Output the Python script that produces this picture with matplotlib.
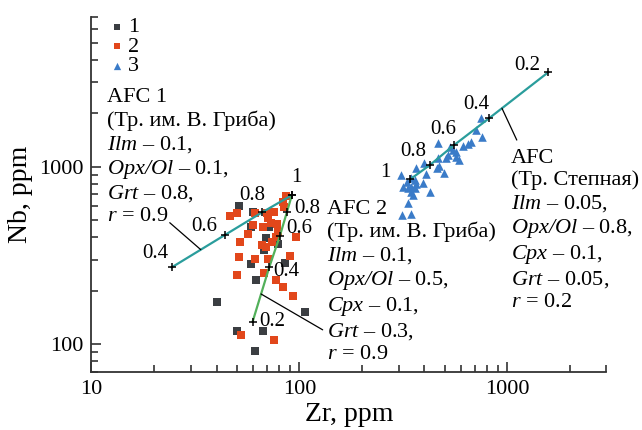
import numpy as np
import matplotlib
matplotlib.use('Agg')
import matplotlib.pyplot as plt
from matplotlib.ticker import LogLocator, FuncFormatter, NullFormatter

plt.rcParams['font.family'] = ['Liberation Serif', 'DejaVu Serif']
plt.rcParams['mathtext.fontset'] = 'custom'
plt.rcParams['mathtext.rm'] = 'Liberation Serif:italic'
plt.rcParams['mathtext.it'] = 'Liberation Serif:italic'

# series 1 (dark squares)
zr1 = [51.3, 59.6, 58.7, 69.0, 71.7, 78.6, 67.8, 58.3, 85.5, 62.1, 40.0, 106.6, 49.9, 67.0, 61.3]
nb1 = [600, 558, 457, 398, 460, 368, 341, 284, 287, 230, 174, 152, 118, 118, 91]

# series 2 (orange squares)
zr2 = [86.1, 83.6, 84.2, 49.9, 46.3, 61.3, 69.6, 75.4, 70.8, 72.7, 77.7, 60.0, 66.6, 78.6, 77.1, 73.5,
       51.8, 65.8, 69.0, 96.2, 51.3, 61.1, 70.3, 90.0, 50.2, 67.8, 77.1, 83.6, 93.4, 52.5, 75.8, 56.7]
nb2 = [683, 635, 595, 546, 527, 546, 546, 558, 512, 480, 475, 469, 459, 430, 403, 378,
       378, 362, 354, 403, 311, 304, 304, 314, 245, 251, 230, 209, 188, 112, 105, 416]

# series 3 (blue triangles)
zr3 = [752, 711, 760, 666, 648, 613, 465, 533, 549, 566, 519, 570, 587, 506, 465, 470, 457, 497, 397,
       409, 366, 310, 330, 346, 359, 366, 346, 334, 316, 359, 343, 353, 394, 424, 334, 313, 343]
nb3 = [1875, 1611, 1476, 1373, 1338, 1314, 1355, 1297, 1243, 1215, 1164, 1139, 1091, 1124, 1115, 1013,
       980, 918, 1045, 910, 980, 898, 823, 860, 841, 796, 771, 755, 771, 755, 717, 692, 806, 717, 622,
       534, 539]

# AFC model curves (F values)
afc1_zr = [24.3, 43.7, 66.4, 92.0]
afc1_nb = [271, 412, 555, 692]
afc1_f = ['0.4', '0.6', '0.8', '1']

afc2_zr = [59.6, 71.6, 80.6, 87.1, 92.0]
afc2_nb = [134, 271, 408, 555, 692]
afc2_f = ['0.2', '0.4', '0.6', '0.8', '']

afc3_zr = [342, 424, 555, 817, 1573]
afc3_nb = [852, 1022, 1326, 1876, 3408]
afc3_f = ['1', '0.8', '0.6', '0.4', '0.2']

c_dark = '#3b3e42'
c_orange = '#e2471b'
c_blue = '#3a7bc8'
c_teal = '#2a9d9c'
c_green = '#52b05a'

fig = plt.figure(figsize=(6.42, 4.30), dpi=100)
ax = fig.add_axes([0.1425, 0.1356, 0.802, 0.825])

ax.scatter(zr1, nb1, marker='s', s=30, color=c_dark, linewidths=0, label='1', zorder=2)
ax.scatter(zr2, nb2, marker='s', s=30, color=c_orange, linewidths=0, label='2', zorder=2)
ax.scatter(zr3, nb3, marker='^', s=38, color=c_blue, linewidths=0, label='3', zorder=2)

ax.plot(afc1_zr, afc1_nb, color=c_teal, lw=1.6, zorder=3)
ax.plot(afc2_zr, afc2_nb, color=c_green, lw=1.6, zorder=3)
ax.plot(afc3_zr, afc3_nb, color=c_teal, lw=1.6, zorder=3)
for xs, ys in [(afc1_zr, afc1_nb), (afc2_zr, afc2_nb), (afc3_zr, afc3_nb)]:
    ax.plot(xs, ys, ls='none', marker='+', ms=5.5, mew=1.1, color='k', zorder=4)

lab = dict(fontsize=15, ha='center', va='center', textcoords='offset points')
off1 = [(-12, 10), (-15, 6), (-7, 12), (3, 13)]
off2 = [(14, 0), (12, -3), (14, 5), (15, 3), (0, 0)]
off3 = [(-18, 5), (-12, 10), (-8, 11), (-9, 10), (-15, 5)]
for xs, ys, fs, offs in [(afc1_zr, afc1_nb, afc1_f, off1), (afc2_zr, afc2_nb, afc2_f, off2),
                         (afc3_zr, afc3_nb, afc3_f, off3)]:
    for x, y, f, o in zip(xs, ys, fs, offs):
        if f:
            ax.annotate(f, (x, y), xytext=o, **lab)


def along(xs, ys, i, t):
    lx = np.log10(xs[i]) * (1 - t) + np.log10(xs[i + 1]) * t
    ly = np.log10(ys[i]) * (1 - t) + np.log10(ys[i + 1]) * t
    return 10 ** lx, 10 ** ly


lead = dict(arrowprops=dict(arrowstyle='-', color='k', lw=0.9, shrinkA=0, shrinkB=0))
ax.annotate('', xy=along(afc1_zr, afc1_nb, 0, 0.55), xytext=(0.152, 0.42), textcoords='axes fraction', **lead)
ax.annotate('', xy=along(afc2_zr, afc2_nb, 0, 0.51), xytext=(0.449, 0.118), textcoords='axes fraction', **lead)
ax.annotate('', xy=along(afc3_zr, afc3_nb, 3, 0.22), xytext=(0.826, 0.653), textcoords='axes fraction', **lead)

txt = dict(fontsize=16, ha='left', va='top', linespacing=1.19, transform=ax.transAxes)
ax.text(0.030, 0.799,
        'AFC 1\n(Тр. им. В. Гриба)\n$Ilm$ – 0.1,\n$Opx/Ol$ – 0.1,\n'
        '$Grt$ – 0.8,\n$r$ = 0.9', **txt)
ax.text(0.457, 0.484,
        'AFC 2\n(Тр. им. В. Гриба)\n$Ilm$ – 0.1,\n$Opx/Ol$ – 0.5,\n'
        '$Cpx$ – 0.1,\n$Grt$ – 0.3,\n$r$ = 0.9', **txt)
ax.text(0.814, 0.629,
        'AFC\n(Тр. Степная)\n$Ilm$ – 0.05,\n$Opx/Ol$ – 0.8,\n'
        '$Cpx$ – 0.1,\n$Grt$ – 0.05,\n$r$ = 0.2', **txt)

ax.set_xscale('log')
ax.set_yscale('log')
ax.set_xlim(10, 3000)
ax.set_ylim(70, 7000)
ax.xaxis.set_major_locator(LogLocator(base=10, numticks=10))
ax.yaxis.set_major_locator(LogLocator(base=10, numticks=10))
ax.xaxis.set_minor_locator(LogLocator(base=10, subs=np.arange(2, 10), numticks=20))
ax.yaxis.set_minor_locator(LogLocator(base=10, subs=np.arange(2, 10), numticks=20))
fmt = FuncFormatter(lambda v, p: f'{v:g}')
ax.xaxis.set_major_formatter(fmt)
ax.yaxis.set_major_formatter(fmt)
ax.xaxis.set_minor_formatter(NullFormatter())
ax.yaxis.set_minor_formatter(NullFormatter())

for s in ['top', 'right']:
    ax.spines[s].set_visible(False)
for s in ['left', 'bottom']:
    ax.spines[s].set_linewidth(1.3)
    ax.spines[s].set_color('#333333')
ax.tick_params(which='both', direction='in', color='#333333', width=1.2, labelsize=16)
ax.tick_params(which='major', length=7, pad=6)
ax.tick_params(which='minor', length=5)

ax.set_xlabel('Zr, ppm', fontsize=20, labelpad=2)
ax.set_ylabel('Nb, ppm', fontsize=20, labelpad=4)

ax.legend(loc='upper left', bbox_to_anchor=(0.037, 1.0), frameon=False, fontsize=16,
          handlelength=0.6, handletextpad=0.2, labelspacing=-0.05, borderpad=0, borderaxespad=0,
          markerscale=0.85)

fig.savefig('out.png', dpi=100, facecolor='white')
